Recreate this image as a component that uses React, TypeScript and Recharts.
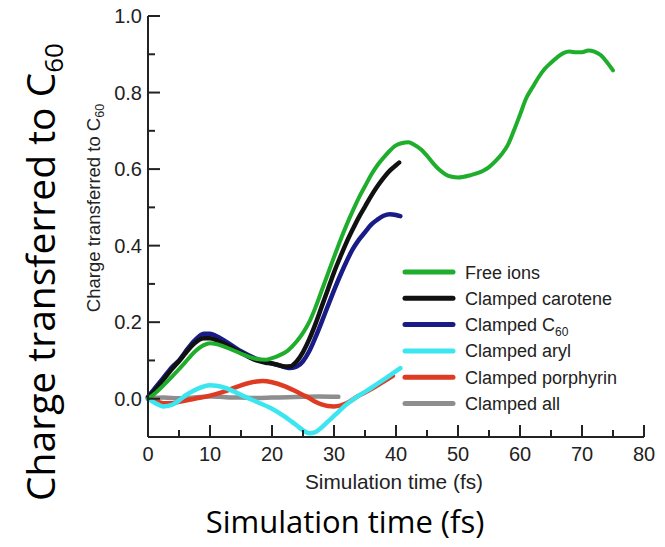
import React from "react"
import { LineChart, Line, XAxis, YAxis, Legend } from "recharts"

// [time (fs), charge]
const freeIons: [number, number][] = [
  [0, 0], [1, 0.012], [2.5, 0.035], [4, 0.06], [5, 0.077], [6, 0.095], [7.5, 0.122], [9, 0.14],
  [10, 0.145], [11, 0.143], [12.5, 0.135], [15, 0.118], [17.5, 0.104], [19, 0.102], [20, 0.106],
  [21, 0.112], [22.5, 0.125], [24, 0.15], [25, 0.172], [26, 0.2], [27, 0.238], [28, 0.282],
  [29, 0.326], [30, 0.37], [31, 0.413], [32, 0.453], [33, 0.49], [34, 0.525], [35, 0.555],
  [36, 0.585], [37, 0.61], [38, 0.63], [39, 0.648], [40, 0.662], [41, 0.668], [42, 0.67],
  [43, 0.663], [44, 0.652], [45, 0.635], [46, 0.615], [47, 0.598], [48, 0.586], [49, 0.58],
  [50, 0.578], [52, 0.584], [54, 0.595], [55, 0.605], [56, 0.62], [57, 0.638], [58, 0.662],
  [59, 0.7], [60, 0.742], [61, 0.785], [62, 0.813], [63, 0.84], [64, 0.862], [65, 0.878],
  [66, 0.892], [67, 0.903], [68, 0.907], [69, 0.905], [70, 0.905], [71, 0.91], [72, 0.907],
  [73, 0.898], [74, 0.88], [75, 0.858],
]

const clampedCarotene: [number, number][] = [
  [0, 0.003], [1, 0.02], [2.5, 0.05], [4, 0.08], [5, 0.098], [6, 0.118], [7.5, 0.145], [9, 0.158],
  [10, 0.158], [11, 0.153], [12.5, 0.142], [15, 0.12], [17.5, 0.1], [19, 0.094], [20, 0.092],
  [21, 0.088], [22, 0.084], [23, 0.085], [24, 0.098], [25, 0.122], [26, 0.155], [27, 0.195],
  [28, 0.24], [29, 0.285], [30, 0.33], [31, 0.37], [32, 0.408], [33, 0.442], [34, 0.474],
  [35, 0.502], [36, 0.53], [37, 0.555], [38, 0.577], [39, 0.596], [40, 0.61], [40.5, 0.617],
]

const clampedC60: [number, number][] = [
  [0, 0.005], [1, 0.025], [2.5, 0.055], [4, 0.085], [5, 0.1], [6, 0.122], [7.5, 0.152], [9, 0.17],
  [10, 0.17], [11, 0.164], [12.5, 0.15], [15, 0.124], [17.5, 0.104], [19, 0.096], [20, 0.092],
  [21, 0.088], [22, 0.083], [23, 0.08], [24, 0.084], [25, 0.098], [26, 0.124], [27, 0.16],
  [28, 0.2], [29, 0.242], [30, 0.283], [31, 0.322], [32, 0.358], [33, 0.39], [34, 0.415],
  [35, 0.435], [36, 0.455], [37, 0.468], [38, 0.478], [39, 0.482], [40, 0.48], [40.7, 0.477],
]

const clampedAryl: [number, number][] = [
  [0, 0], [1, -0.01], [2.5, -0.02], [4, -0.015], [5, -0.005], [6, 0.008], [7.5, 0.022], [9, 0.032],
  [10, 0.035], [11, 0.034], [12.5, 0.028], [14, 0.018], [15, 0.01], [17.5, -0.008], [20, -0.026],
  [22, -0.046], [24, -0.07], [25, -0.082], [26, -0.09], [27, -0.087], [28, -0.075], [29, -0.06],
  [30, -0.045], [32, -0.015], [34, 0.008], [36, 0.028], [38, 0.05], [40, 0.072], [40.7, 0.08],
]

const clampedPorphyrin: [number, number][] = [
  [0, 0], [1, -0.005], [2.5, -0.012], [4, -0.012], [5, -0.008], [7.5, 0], [10, 0.008],
  [12.5, 0.02], [15, 0.035], [17.5, 0.045], [18.5, 0.046], [20, 0.043], [22, 0.033], [24, 0.018],
  [25, 0.01], [26, 0.002], [27, -0.008], [28, -0.015], [29, -0.019], [30, -0.02], [31, -0.018],
  [32, -0.012], [34, 0.008], [36, 0.025], [38, 0.045], [39.5, 0.06],
]

const clampedAll: [number, number][] = [
  [0, 0], [2.5, 0.003], [5, 0.001], [7.5, 0.003], [10, 0.006], [12.5, 0.004], [15, 0.003],
  [17.5, 0.002], [20, 0.003], [22.5, 0.004], [25, 0.005], [27.5, 0.006], [30.7, 0.005],
]

const xMajor = [0, 10, 20, 30, 40, 50, 60, 70, 80]
const xMinor = [5, 15, 25, 35, 45, 55, 65, 75]
const yMajor = [0, 0.2, 0.4, 0.6, 0.8, 1.0]
const yMinor = [0.1, 0.3, 0.5, 0.7, 0.9]

const series = [
  { name: "Free ions", color: "#1fad2c", points: freeIons, width: 4 },
  { name: "Clamped carotene", color: "#111111", points: clampedCarotene, width: 4.5 },
  { name: "Clamped C60", color: "#191c86", points: clampedC60, width: 4.5 },
  { name: "Clamped aryl", color: "#3ce6f0", points: clampedAryl, width: 4.5 },
  { name: "Clamped porphyrin", color: "#df3a22", points: clampedPorphyrin, width: 4.5 },
  { name: "Clamped all", color: "#8e8e8e", points: clampedAll, width: 4.5 },
]

// back-to-front drawing order
const drawOrder = ["Clamped all", "Clamped porphyrin", "Clamped aryl", "Clamped C60", "Clamped carotene", "Free ions"]

const axisFont = "'Liberation Sans', Arial, Helvetica, sans-serif"
const axisColor = "#222"

const isIn = (list: number[], v: number) => list.some((m) => Math.abs(m - v) < 1e-6)

const XTick = ({ x, y, payload }: any) => {
  const major = isIn(xMajor, payload.value)
  return (
    <g>
      <line x1={x} x2={x} y1={y} y2={y - (major ? 12 : 7)} stroke={axisColor} strokeWidth={2} />
      {major && (
        <text x={x} y={y + 24} textAnchor="middle" fontSize={20} fill="#222" fontFamily={axisFont}>
          {payload.value}
        </text>
      )}
    </g>
  )
}

const YTick = ({ x, y, payload }: any) => {
  const major = isIn(yMajor, payload.value)
  return (
    <g>
      <line x1={x} x2={x + (major ? 12 : 7)} y1={y} y2={y} stroke={axisColor} strokeWidth={2} />
      {major && (
        <text x={x - 6} y={y + 7} textAnchor="end" fontSize={20} fill="#222" fontFamily={axisFont}>
          {payload.value.toFixed(1)}
        </text>
      )}
    </g>
  )
}

const LegendLabel = ({ name }: { name: string }) =>
  name === "Clamped C60" ? (
    <>
      Clamped C<tspan fontSize={12} dy={5}>60</tspan>
    </>
  ) : (
    <>{name}</>
  )

const LegendBox = () => (
  <svg width={260} height={160}>
    {series.map((s, i) => {
      const cy = 16 + i * 26.3
      return (
        <g key={s.name}>
          <line x1={5} x2={53} y1={cy} y2={cy} stroke={s.color} strokeWidth={5} strokeLinecap="round" />
          <text x={65} y={cy + 6.5} fontSize={18} fill="#222" fontFamily={axisFont}>
            <LegendLabel name={s.name} />
          </text>
        </g>
      )
    })}
  </svg>
)

export default function App() {
  const ordered = drawOrder.map((n) => series.find((s) => s.name === n)!)
  return (
    <div style={{ position: "absolute", left: 0, top: 0, width: 665, height: 547, background: "#fff" }}>
      <LineChart width={665} height={547} margin={{ top: 16, right: 21, bottom: 0, left: 0 }}>
        <XAxis
          dataKey="t"
          type="number"
          domain={[0, 80]}
          ticks={[...xMajor, ...xMinor].sort((a, b) => a - b)}
          interval={0}
          height={110}
          tickSize={0}
          tickMargin={0}
          tickLine={false}
          axisLine={{ stroke: axisColor, strokeWidth: 2 }}
          tick={<XTick />}
          allowDuplicatedCategory={false}
        />
        <YAxis
          type="number"
          domain={[-0.1, 1]}
          ticks={[...yMajor, ...yMinor].sort((a, b) => a - b)}
          interval={0}
          width={148}
          tickSize={0}
          tickMargin={0}
          tickLine={false}
          axisLine={{ stroke: axisColor, strokeWidth: 2 }}
          tick={<YTick />}
        />
        <Legend
          layout="horizontal"
          verticalAlign="middle"
          align="center"
          content={() => <LegendBox />}
          wrapperStyle={{ position: "absolute", left: 400, top: 256, width: 260, height: 160 }}
        />
        {ordered.map((s) => (
          <Line
            key={s.name}
            name={s.name}
            data={s.points.map(([t, v]) => ({ t, v }))}
            dataKey="v"
            type="monotone"
            stroke={s.color}
            strokeWidth={s.width}
            strokeLinecap="round"
            dot={false}
            isAnimationActive={false}
          />
        ))}
      </LineChart>
      <svg
        width={665}
        height={547}
        style={{ position: "absolute", left: 0, top: 0, pointerEvents: "none" }}
      >
        <text
          x={394}
          y={489}
          textAnchor="middle"
          fontSize={21}
          fill="#222"
          fontFamily={axisFont}
          textLength={178}
          lengthAdjust="spacingAndGlyphs"
        >
          Simulation time (fs)
        </text>
        <text
          transform="translate(100,208) rotate(-90)"
          textAnchor="middle"
          fontSize={18.5}
          fill="#222"
          fontFamily={axisFont}
        >
          Charge transferred to C<tspan fontSize={12.5} dy={4}>60</tspan>
        </text>
        <text x={345} y={533} textAnchor="middle" fontSize={31} fill="#000" fontFamily="'Open Sans', sans-serif">
          Simulation time (fs)
        </text>
        <text
          transform="translate(55,272) rotate(-90)"
          textAnchor="middle"
          fontSize={39}
          fill="#000"
          fontFamily="'Open Sans', sans-serif"
        >
          Charge transferred to C<tspan fontSize={26} dy={8}>60</tspan>
        </text>
      </svg>
    </div>
  )
}
